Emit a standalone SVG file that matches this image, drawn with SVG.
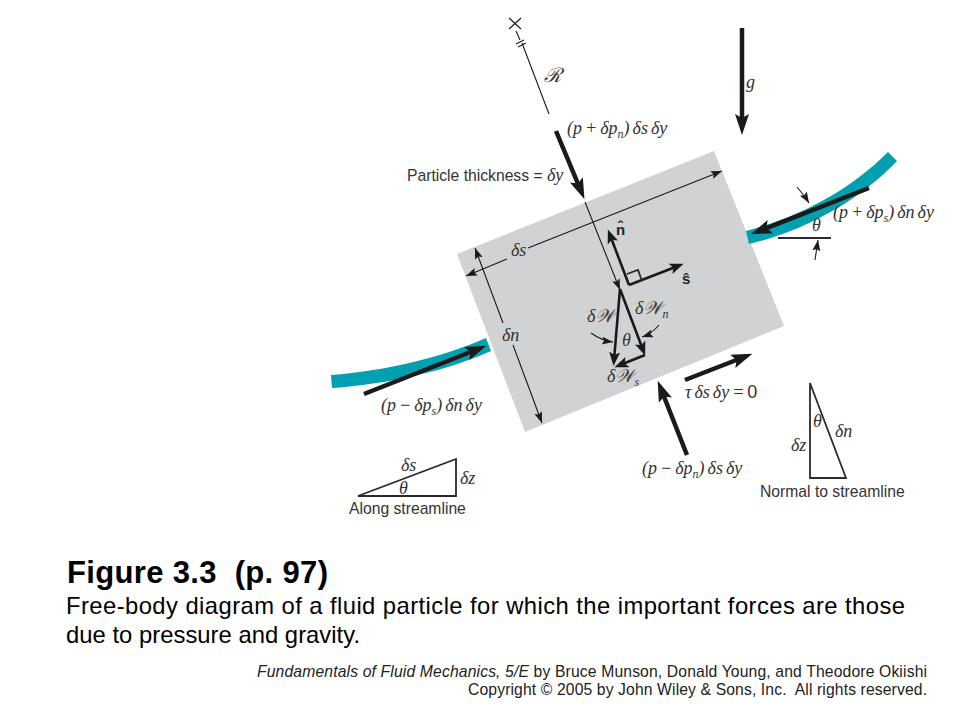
<svg xmlns="http://www.w3.org/2000/svg" width="960" height="720" viewBox="0 0 960 720">
<style>
text{fill:#333;font-family:"Liberation Sans",Arial,sans-serif}
.m{font-family:"Liberation Serif","Times New Roman",serif;font-style:italic;font-size:18px;word-spacing:-1.5px}
.s{font-size:15.7px}
.b{font-weight:bold;font-size:15px;fill:#222}
.c{fill:#000;font-size:23.8px}
.f{fill:#222;font-size:15.7px}
.t{fill:none;stroke:#1a1a1a;stroke-width:1.1}
.k{fill:none;stroke:#1a1a1a;stroke-width:4.5}
.w{fill:none;stroke:#1a1a1a;stroke-width:2.6}
.o{fill:none;stroke:#2a2a2a;stroke-width:1.8}
.u{font-size:12px}
.v{font-size:20px}
</style>
<defs>
<marker id="big" markerUnits="userSpaceOnUse" markerWidth="24" markerHeight="18" refX="12" refY="9" orient="auto"><path d="M0,2 L21,9 L0,16 L4,9Z" fill="#1a1a1a"/></marker>
<marker id="med" markerUnits="userSpaceOnUse" markerWidth="18" markerHeight="14" refX="8" refY="7" orient="auto"><path d="M0,1.5 L14,7 L0,12.5 L3,7Z" fill="#1a1a1a"/></marker>
<marker id="small" markerUnits="userSpaceOnUse" markerWidth="12" markerHeight="10" refX="11" refY="5" orient="auto"><path d="M0,1 L11,5 L0,9 L2,5Z" fill="#1a1a1a"/></marker>
</defs>
<g id="particle"><polygon points="457,254 714,151 784,326 525,432" fill="#d1d2d4"/></g>
<g id="streamlines" fill="#00a0b0">
<path d="M746,231 C800,217 850,190 888,152 L897,161 C860,200 805,231 749,244Z"/>
<path d="M331,375 C385,371 440,358 486,338 L491,351 C445,371 390,384 332,388Z"/>
</g>
<g id="connectors">
<path class="k" d="M556,131 L581,191" marker-end="url(#big)"/>
<path class="k" d="M742,28 L742,126" marker-end="url(#big)"/>
<path class="k" d="M869,188 L759,231" marker-end="url(#big)"/>
<path class="k" d="M364,394 L478,349" marker-end="url(#big)"/>
<path class="k" d="M687,455 L661,389" marker-end="url(#big)"/>
<path class="k" d="M685,380 L744,357" marker-end="url(#big)"/>
<path class="w" d="M629,285 L610,235" marker-end="url(#med)"/>
<path class="w" d="M629,285 L678,266" marker-end="url(#med)"/>
<path class="o" d="M627,274 L638,270 L642,281"/>
<path class="w" d="M620,289 L614,360" marker-end="url(#med)"/>
<path class="w" d="M620,289 L643,350" marker-end="url(#med)"/>
<path class="w" d="M645,355 L620,365" marker-end="url(#med)"/>
<path class="t" d="M509,18 L521,29M521,18 L509,29"/>
<path class="t" d="M516,31 L520,40M522,43 L549,114"/>
<path class="t" d="M516,44 L524,40M518,47 L526,43"/>
<path class="t" d="M585,202 L620,290" marker-end="url(#small)"/>
<path class="t" d="M528,248 L722,171" marker-end="url(#small)"/>
<path class="t" d="M507,259 L466,276" marker-end="url(#small)"/>
<path class="t" d="M503,323 L475,248" marker-end="url(#small)"/>
<path class="t" d="M513,345 L542,423" marker-end="url(#small)"/>
<path class="t" d="M591,333 C598,338 605,341 613,342" marker-end="url(#small)"/>
<path class="t" d="M659,325 C654,331 648,335 642,337" marker-end="url(#small)"/>
<path class="t" d="M797,187 C802,193 806,198 809,203" marker-end="url(#small)"/>
<path class="t" d="M815,260 L818,240" marker-end="url(#small)"/>
<path class="o" d="M778,238 H831"/>
</g>
<g id="labels">
<text class="m v" x="544" y="82">ℛ</text>
<text class="m" x="746" y="88">g</text>
<text class="m" x="567" y="134">(p + δp<tspan class="u" dy="4">n</tspan><tspan dy="-4">) δs δy</tspan></text>
<text class="s" x="407" y="181">Particle thickness = <tspan class="m">δy</tspan></text>
<text class="m" x="833" y="218">(p + δp<tspan class="u" dy="4">s</tspan><tspan dy="-4">) δn δy</tspan></text>
<text class="m" x="812" y="231">θ</text>
<text class="m" x="511" y="256">δs</text>
<text class="m" x="502" y="341">δn</text>
<text class="m" x="381" y="411">(p − δp<tspan class="u" dy="4">s</tspan><tspan dy="-4">) δn δy</tspan></text>
<text class="b" x="616" y="235">n̂</text>
<text class="b" x="682" y="284">ŝ</text>
<text class="m" x="587" y="322">δ𝒲</text>
<text class="m" x="635" y="314">δ𝒲<tspan class="u" dy="4">n</tspan></text>
<text class="m" x="622" y="346">θ</text>
<text class="m" x="607" y="382">δ𝒲<tspan class="u" dy="4">s</tspan></text>
<text class="m" x="685" y="398">τ δs δy = <tspan font-style="normal" font-family="Liberation Sans">0</tspan></text>
<text class="m" x="642" y="474">(p − δp<tspan class="u" dy="4">n</tspan><tspan dy="-4">) δs δy</tspan></text>
</g>
<g id="along-streamline">
<path class="o" d="M358,496 L456,459 V496Z"/>
<text class="m" x="401" y="471">δs</text>
<text class="m" x="460" y="484">δz</text>
<text class="m" x="399" y="494">θ</text>
<text class="s" x="349" y="514">Along streamline</text>
</g>
<g id="normal-to-streamline">
<path class="o" d="M810,383 V478 H846Z"/>
<text class="m" x="813" y="427">θ</text>
<text class="m" x="835" y="437">δn</text>
<text class="m" x="791" y="451">δz</text>
<text class="s" x="760" y="497">Normal to streamline</text>
</g>
<g id="caption">
<text x="67" y="583" font-size="31" font-weight="bold" style="fill:#000" xml:space="preserve" textLength="261">Figure 3.3  (p. 97)</text>
<text class="c" x="66" y="614" textLength="839">Free-body diagram of a fluid particle for which the important forces are those</text>
<text class="c" x="66" y="643" textLength="294">due to pressure and gravity.</text>
<text class="f" x="257" y="677" textLength="670"><tspan font-style="italic">Fundamentals of Fluid Mechanics, 5/E</tspan> by Bruce Munson, Donald Young, and Theodore Okiishi</text>
<text class="f" x="468" y="695" xml:space="preserve" textLength="459">Copyright © 2005 by John Wiley &amp; Sons, Inc.  All rights reserved.</text>
</g>
</svg>
